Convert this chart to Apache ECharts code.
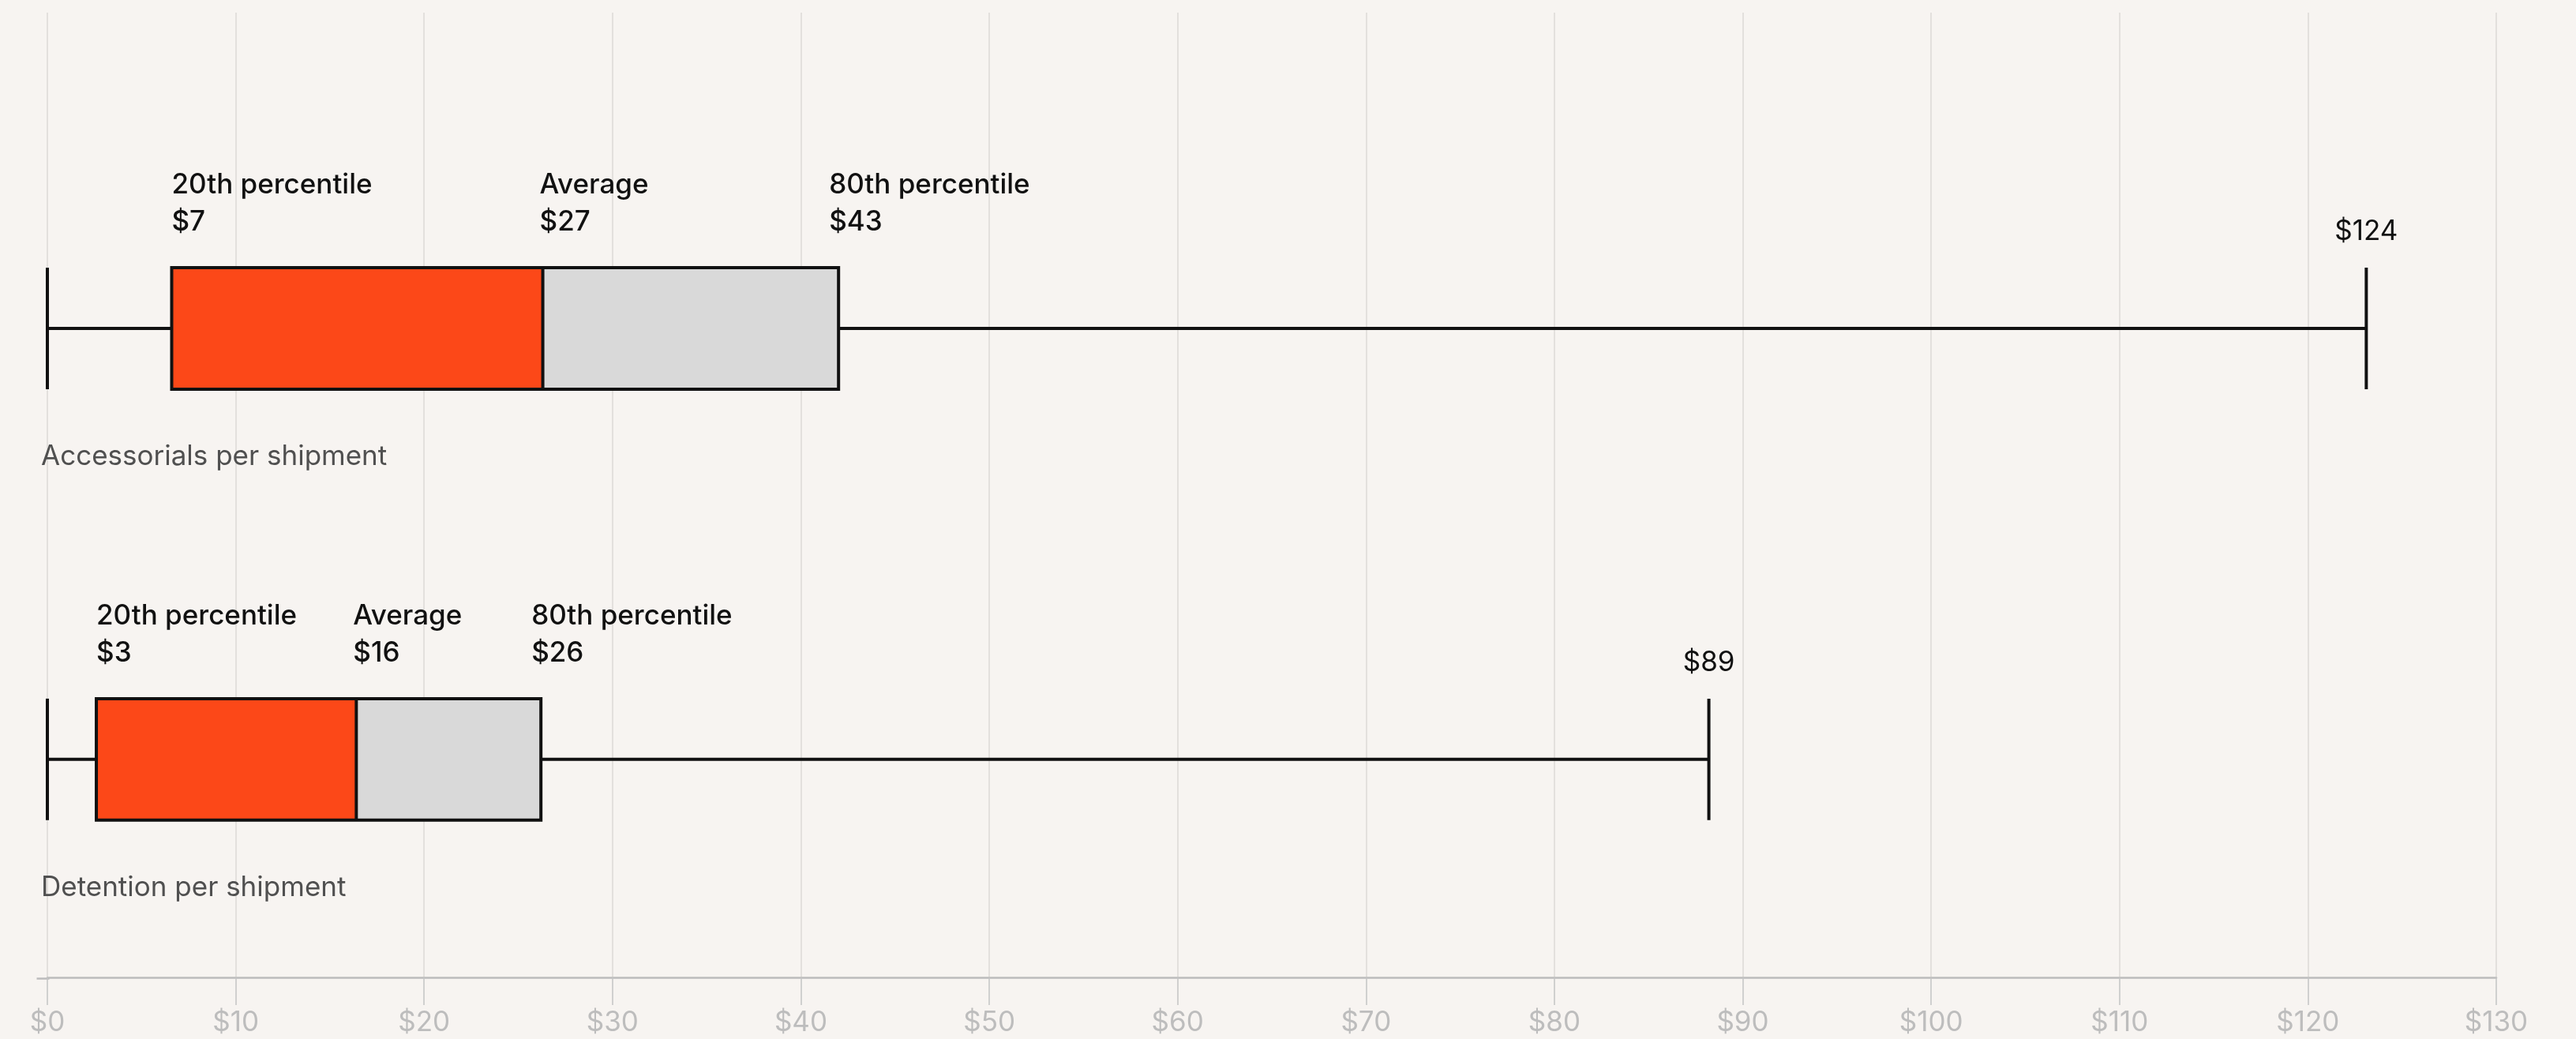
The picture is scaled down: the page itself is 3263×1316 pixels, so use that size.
<!DOCTYPE html>
<html>
<head>
<meta charset="utf-8">
<script src="https://cdn.jsdelivr.net/npm/echarts@6/dist/echarts.min.js"></script>
<style>
  html, body { margin: 0; padding: 0; background: #f7f4f1; }
  #chart { width: 3263px; height: 1316px; }
</style>
</head>
<body>
<div id="chart"></div>
<script>
var categories = ['Accessorials per shipment', 'Detention per shipment'];
var minValues = [0, 0];
var p20Values = [6.6, 2.6];
var avgValues = [26.3, 16.4];
var p80Values = [42.0, 26.2];
var maxValues = [123.1, 88.2];
var p20Labels = ['$7', '$3'];
var avgLabels = ['$27', '$16'];
var p80Labels = ['$43', '$26'];
var maxLabels = ['$124', '$89'];
var xMin = 0, xMax = 130, xStep = 10;

var FONT = 'Inter, "Noto Sans", sans-serif';
var INK = '#111111';

var data = categories.map(function (c, i) {
    return [i, minValues[i], p20Values[i], avgValues[i], p80Values[i], maxValues[i]];
});

function renderItem(params, api) {
    var i = api.value(0);
    var yC = api.coord([0, i])[1];
    var xs = [1, 2, 3, 4, 5].map(function (d) { return api.coord([api.value(d), i])[0]; });
    var h = api.size([0, 0.282])[1];
    var top = yC - h / 2, bottom = yC + h / 2;
    var lw = 4;
    var line = function (x1, y1, x2, y2) {
        return { type: 'line', shape: { x1: x1, y1: y1, x2: x2, y2: y2 }, style: { stroke: INK, lineWidth: lw } };
    };
    var label = function (x, y, text, align, vAlign, color, weight) {
        return {
            type: 'text', x: x, y: y,
            style: {
                text: text, fill: color, fontSize: 35, fontFamily: FONT, fontWeight: weight,
                lineHeight: 47, align: align, verticalAlign: vAlign
            }
        };
    };
    return {
        type: 'group',
        children: [
            line(xs[0], yC, xs[4], yC),
            line(xs[0], top, xs[0], bottom),
            line(xs[4], top, xs[4], bottom),
            { type: 'rect', shape: { x: xs[1], y: top, width: xs[2] - xs[1], height: h }, style: { fill: '#fc4818' } },
            { type: 'rect', shape: { x: xs[2], y: top, width: xs[3] - xs[2], height: h }, style: { fill: '#d9d9d9' } },
            { type: 'rect', shape: { x: xs[1], y: top, width: xs[3] - xs[1], height: h }, style: { fill: 'none', stroke: INK, lineWidth: lw } },
            line(xs[2], top, xs[2], bottom),
            label(xs[1], top - 34, '20th percentile\n' + p20Labels[i], 'left', 'bottom', INK, 500),
            label(xs[2] - 4, top - 34, 'Average\n' + avgLabels[i], 'left', 'bottom', INK, 500),
            label(xs[3] - 12, top - 34, '80th percentile\n' + p80Labels[i], 'left', 'bottom', INK, 500),
            label(xs[4], top - 22, maxLabels[i], 'center', 'bottom', INK, 400),
            label(xs[0] - 8, bottom + 62, categories[i], 'left', 'top', '#505050', 400)
        ]
    };
}

var chart = echarts.init(document.getElementById('chart'));
chart.setOption({
    backgroundColor: '#f7f4f1',
    animation: false,
    grid: { left: 60, right: 101, top: 16, bottom: 78 },
    xAxis: {
        type: 'value',
        min: xMin,
        max: xMax,
        interval: xStep,
        axisLine: { show: true, onZero: false, lineStyle: { color: '#bcbcbc', width: 2.5 } },
        axisTick: { show: true, length: 35, lineStyle: { color: '#c4c4c4', width: 1.5 } },
        axisLabel: {
            margin: 40, color: '#bdbdbd', fontSize: 35, fontFamily: FONT,
            formatter: function (v) { return '$' + v; }
        },
        splitLine: { show: true, lineStyle: { color: '#e3e0dd', width: 2 } }
    },
    yAxis: {
        type: 'value',
        inverse: true,
        min: -0.733,
        max: 1.506,
        show: false
    },
    graphic: [{
        type: 'line', left: 44, top: 1237,
        shape: { x1: 0, y1: 0, x2: 16, y2: 0 },
        style: { stroke: '#bcbcbc', lineWidth: 2.5 }
    }],
    series: [{
        type: 'custom',
        renderItem: renderItem,
        data: data,
        encode: { x: [1, 2, 3, 4, 5], y: 0 },
        clip: false
    }]
});
</script>
</body>
</html>
